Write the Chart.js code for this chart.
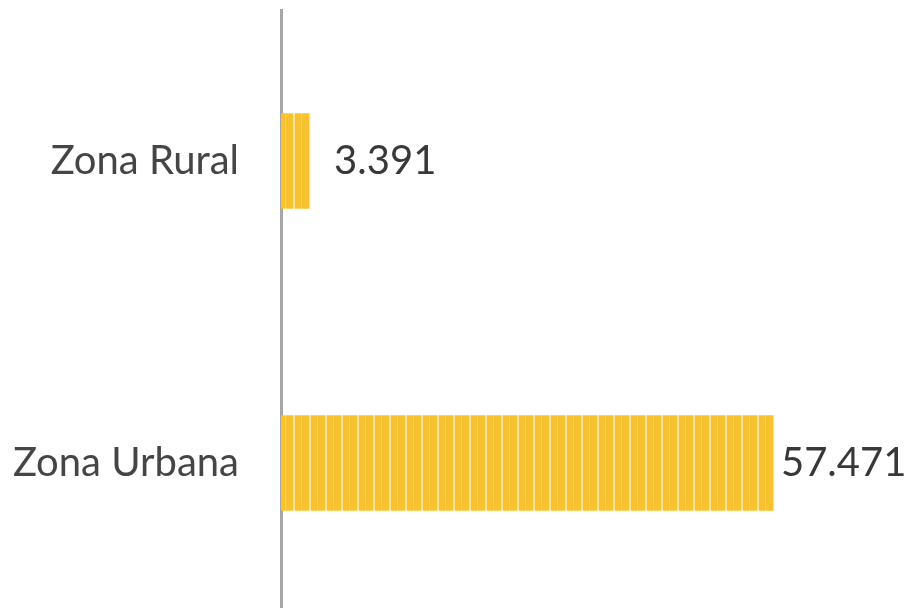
<!DOCTYPE html>
<html><head><meta charset="utf-8">
<script src="https://cdn.jsdelivr.net/npm/chart.js@4.4.1/dist/chart.umd.min.js"></script>
<style>html,body{margin:0;padding:0;background:#fff;overflow:hidden}#w{width:908px;height:614px}</style>
</head><body><div id="w"><canvas id="c"></canvas></div>
<script>
const categories = ["Zona Rural", "Zona Urbana"];
const values = [3.391, 57.471];
const valueLabels = ["3.391", "57.471"];
const labelOffsets = [24, 7];

function stripePattern() {
  const p = document.createElement('canvas');
  p.width = 16; p.height = 4;
  const g = p.getContext('2d');
  g.fillStyle = '#f8c22e'; g.fillRect(0, 0, 16, 4);
  g.fillStyle = '#fde39a'; g.fillRect(5, 0, 2, 4);
  g.fillStyle = '#fad15e'; g.fillRect(13, 0, 1, 4);
  return g.createPattern(p, 'repeat');
}

const valuePlugin = {
  id: 'vals',
  afterDatasetsDraw(chart) {
    const ctx = chart.ctx;
    const meta = chart.getDatasetMeta(0);
    ctx.save();
    ctx.font = '40px Lato';
    ctx.fillStyle = '#383838';
    ctx.textBaseline = 'middle';
    ctx.textAlign = 'left';
    meta.data.forEach((bar, i) => {
      ctx.fillText(valueLabels[i], bar.x + labelOffsets[i], bar.y);
    });
    ctx.restore();
  }
};

new Chart(document.getElementById('c'), {
  type: 'bar',
  data: { labels: categories, datasets: [{ data: values, backgroundColor: stripePattern(), borderWidth: 0, barThickness: 95 }] },
  options: {
    indexAxis: 'y', responsive: true, maintainAspectRatio: false, animation: false,
    layout: { padding: { top: 10, bottom: 0, left: 0, right: 0 } },
    plugins: { legend: { display: false }, tooltip: { enabled: false } },
    scales: {
      x: { display: false, min: 0, max: 73.1 },
      y: {
        grid: { display: false },
        border: { display: true, color: '#a6a6a6', width: 3 },
        ticks: { color: '#454545', font: { family: 'Lato', size: 40 }, padding: 34 },
        afterFit(scale) { scale.width = 281; scale.paddingTop = 0; scale.paddingBottom = 0; }
      }
    }
  },
  plugins: [valuePlugin]
});
</script></body></html>
